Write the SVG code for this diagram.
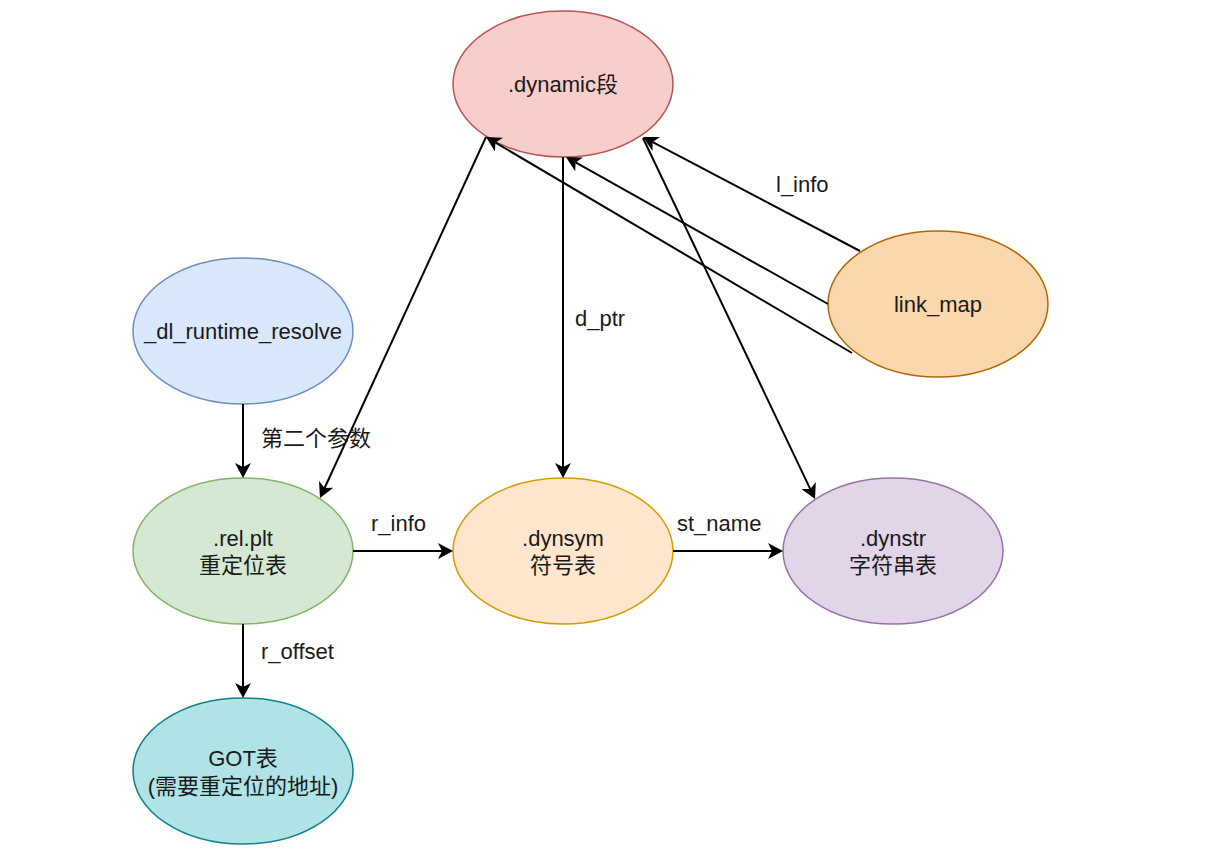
<svg xmlns="http://www.w3.org/2000/svg" width="1205" height="853" viewBox="0 0 1205 853">
<style>
text{font-family:"Liberation Sans","Noto Sans CJK SC",sans-serif;font-size:22px;fill:#1a1a1a;text-anchor:middle}
.lbl{text-anchor:start}
ellipse{stroke-width:1.5}
.e{stroke:#000;stroke-width:2;fill:none;marker-end:url(#arr)}
</style>
<defs>
<marker id="arr" viewBox="0 0 15 16" refX="4" refY="8" markerWidth="15" markerHeight="16" markerUnits="userSpaceOnUse" orient="auto">
<path d="M0,0 L15,8 L0,16 L4,8 Z" fill="#000"/>
</marker>
</defs>
<rect width="1205" height="853" fill="#fff"/>
<g id="nodes">
<g id="dynamic"><ellipse cx="563" cy="84" rx="110" ry="73" fill="#f8cecc" stroke="#b85450"/><text x="563" y="92">.dynamic段</text></g>
<g id="link_map"><ellipse cx="938" cy="304" rx="110" ry="73" fill="#fad7ac" stroke="#b46504"/><text x="938" y="312">link_map</text></g>
<g id="dl_runtime_resolve"><ellipse cx="243" cy="331" rx="110" ry="73" fill="#dae8fc" stroke="#6c8ebf"/><text x="243" y="339">_dl_runtime_resolve</text></g>
<g id="rel_plt"><ellipse cx="243" cy="551" rx="110" ry="73" fill="#d5e8d4" stroke="#82b366"/><text x="243" y="546">.rel.plt</text><text x="243" y="573">重定位表</text></g>
<g id="dynsym"><ellipse cx="563" cy="551" rx="110" ry="73" fill="#ffe6cc" stroke="#d79b00"/><text x="563" y="546">.dynsym</text><text x="563" y="573">符号表</text></g>
<g id="dynstr"><ellipse cx="893" cy="551" rx="110" ry="73" fill="#e1d5e7" stroke="#9673a6"/><text x="893" y="546">.dynstr</text><text x="893" y="573">字符串表</text></g>
<g id="got"><ellipse cx="243" cy="771" rx="110" ry="73" fill="#b0e3e6" stroke="#0e8088"/><text x="243" y="766">GOT表</text><text x="243" y="794">(需要重定位的地址)</text></g>
</g>
<g id="connectors">
<path class="e" d="M486,137 L324.6,488"/>
<path class="e" d="M563,157 L563,467"/>
<path class="e" d="M643,138 L810.3,489.1"/>
<path class="e" d="M860,251 L652.7,142.1"/>
<path class="e" d="M828,304 L575.6,162.4"/>
<path class="e" d="M852,353 L495.5,142.6"/>
<path class="e" d="M243,404 L243,467"/>
<path class="e" d="M243,624 L243,687"/>
<path class="e" d="M353,551 L442,551"/>
<path class="e" d="M673,551 L772,551"/>
<text class="lbl" x="776" y="192">l_info</text>
<text class="lbl" x="575" y="326">d_ptr</text>
<text class="lbl" x="261" y="446">第二个参数</text>
<text class="lbl" x="371" y="531">r_info</text>
<text class="lbl" x="677" y="531">st_name</text>
<text class="lbl" x="261" y="659">r_offset</text>
</g>
</svg>
